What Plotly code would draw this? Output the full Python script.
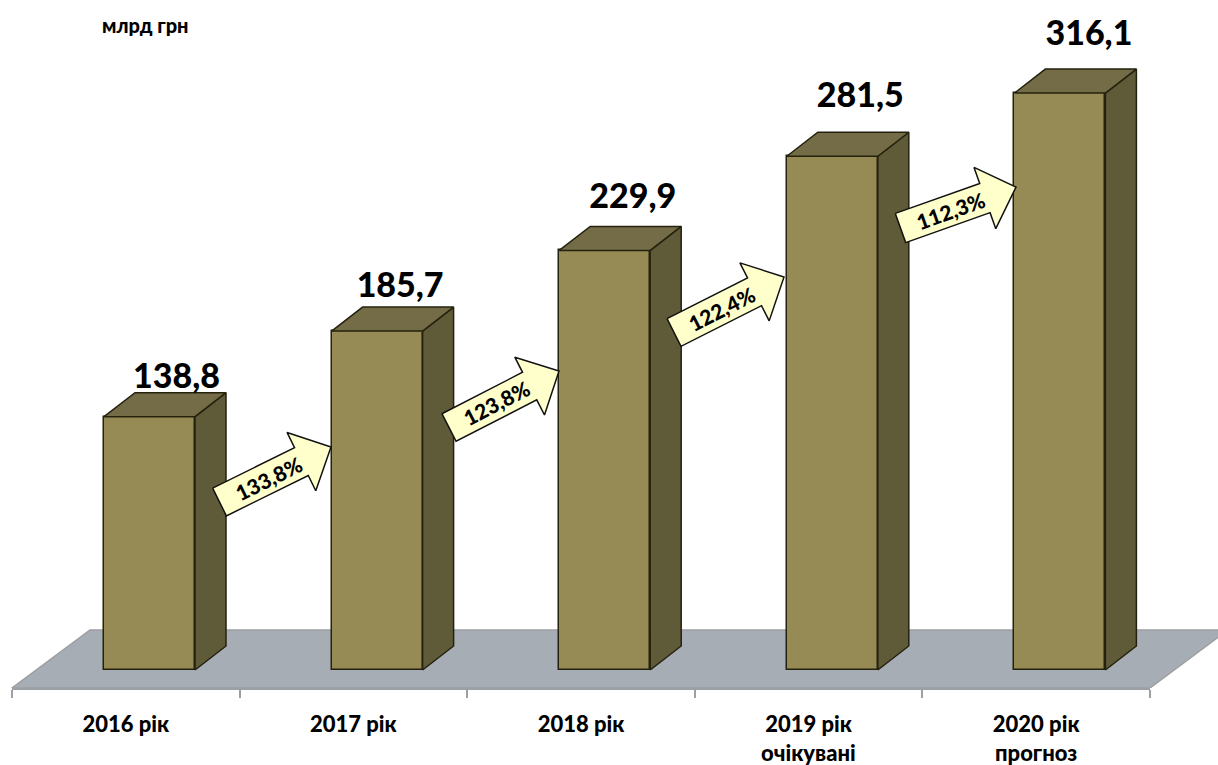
import math
import plotly.graph_objects as go

# ---- data
years = ["2016 рік", "2017 рік", "2018 рік", "2019 рік", "2020 рік"]
second_line = ["", "", "", "очікувані", "прогноз"]
values = [138.8, 185.7, 229.9, 281.5, 316.1]
value_labels = ["138,8", "185,7", "229,9", "281,5", "316,1"]
growth_labels = ["133,8%", "123,8%", "122,4%", "112,3%"]

# ---- geometry of the picture
W, H = 1218, 765
AX_L, AX_R, AX_Y = 12, 1150, 688
ZERO_Y = 670
PX_PER_UNIT = 1.825
STEP = (AX_R - AX_L) / 5
CENTER0 = AX_L + STEP / 2
FONT = "Lato, 'Open Sans', sans-serif"


def dx(px):
    return px / STEP


def dy(px):
    return px / PX_PER_UNIT


def to_x(px):
    return (px - CENTER0) / STEP


def to_y(py):
    return (ZERO_Y - py) / PX_PER_UNIT


BAR_W = dx(91)
BAR_OFF = to_x(104)
DEPTH_X, DEPTH_Y = dx(31), dy(24)

# faces of the 3D columns, from the values
side_x, side_y, top_x, top_y = [], [], [], []
for i, v in enumerate(values):
    l, r = i + BAR_OFF, i + BAR_OFF + BAR_W
    side_x += [r, r + DEPTH_X, r + DEPTH_X, r, r, None]
    side_y += [0, DEPTH_Y, v + DEPTH_Y, v, 0, None]
    top_x += [l, r, r + DEPTH_X, l + DEPTH_X, l, None]
    top_y += [v, v, v + DEPTH_Y, v + DEPTH_Y, v, None]

# floor, under every trace
FLOOR_DX, FLOOR_DY = dx(78), dy(58)
fy0 = to_y(AX_Y)
floor_path = "M {} {} L {} {} L {} {} L {} {} Z".format(
    -0.5, fy0, 4.5, fy0, 4.5 + FLOOR_DX, fy0 + FLOOR_DY, -0.5 + FLOOR_DX, fy0 + FLOOR_DY)

fig = go.Figure()

# keeps the category axis alive
fig.add_trace(go.Bar(x=years, y=[0] * 5, xaxis="x", yaxis="y", marker=dict(opacity=0),
                     showlegend=False, hoverinfo="skip"))

fig.add_trace(go.Bar(x=list(range(5)), y=values, xaxis="x2", yaxis="y", width=BAR_W, offset=BAR_OFF,
                     marker=dict(color="#968A55", line=dict(color="#24220F", width=1.5)),
                     showlegend=False))

fig.add_trace(go.Scatter(x=side_x, y=side_y, xaxis="x2", yaxis="y", mode="lines", fill="toself",
                         fillcolor="#5F5A38", line=dict(color="#24220F", width=1.5),
                         showlegend=False, hoverinfo="skip"))
fig.add_trace(go.Scatter(x=top_x, y=top_y, xaxis="x2", yaxis="y", mode="lines", fill="toself",
                         fillcolor="#746C46", line=dict(color="#24220F", width=1.5),
                         showlegend=False, hoverinfo="skip"))

# value labels
label_lift_px = [37, 43, 51, 58, 57]
label_shift_px = [27, 23, 28, 28, 29]
fig.add_trace(go.Scatter(
    x=[i + BAR_OFF + BAR_W / 2 + dx(s) for i, s in enumerate(label_shift_px)],
    y=[v + dy(p) for v, p in zip(values, label_lift_px)],
    xaxis="x2", yaxis="y", mode="text", text=value_labels, textposition="middle center",
    textfont=dict(family=FONT, size=34, color="#000000", weight=900),
    cliponaxis=False, showlegend=False, hoverinfo="skip"))

# growth arrows: tail centre and tip, in pixels
arrow_tail = [(219.5, 502), (449, 427.5), (674, 332.5), (900.5, 228)]
arrow_tip = [(331, 447), (559, 371), (784, 277), (1016, 187)]
SHAFT_HALF, HEAD_HALF, HEAD_LEN = 15.5, 32.5, 33

annotations = []
for (tx, ty), (hx, hy), lab in zip(arrow_tail, arrow_tip, growth_labels):
    L = math.hypot(hx - tx, hy - ty)
    ux, uy = (hx - tx) / L, (hy - ty) / L
    nx, ny = -uy, ux
    neck = L - HEAD_LEN
    outline = [(0, -SHAFT_HALF), (neck, -SHAFT_HALF), (neck, -HEAD_HALF), (L, 0),
               (neck, HEAD_HALF), (neck, SHAFT_HALF), (0, SHAFT_HALF), (0, -SHAFT_HALF)]
    px = [tx + a * ux + b * nx for a, b in outline]
    py = [ty + a * uy + b * ny for a, b in outline]
    fig.add_trace(go.Scatter(x=[to_x(p) for p in px], y=[to_y(p) for p in py], xaxis="x2", yaxis="y",
                             mode="lines", fill="toself", fillcolor="#FFFFCC",
                             line=dict(color="#111111", width=1.5),
                             showlegend=False, hoverinfo="skip"))
    mid = (L - HEAD_LEN) * 0.5 + 8.5
    annotations.append(dict(x=to_x(tx + mid * ux), y=to_y(ty + mid * uy), xref="x2", yref="y",
                            text=lab, showarrow=False,
                            textangle=math.degrees(math.atan2(uy, ux)),
                            font=dict(family=FONT, size=21, color="#000000", weight=900)))

# second lines of the category labels
for i, t in enumerate(second_line):
    if t:
        annotations.append(dict(x=i, y=1 - 752 / H, xref="x", yref="paper", text=t, showarrow=False,
                                yanchor="middle",
                                font=dict(family=FONT, size=22, color="#000000", weight=900)))

annotations.append(dict(x=145 / W, y=1 - 25 / H, xref="paper", yref="paper", text="млрд грн",
                        showarrow=False, xanchor="center", yanchor="middle",
                        font=dict(family=FONT, size=20, color="#000000", weight=900)))

fig.update_layout(
    width=W, height=H, autosize=False, margin=dict(l=0, r=0, t=0, b=0),
    paper_bgcolor="white", plot_bgcolor="white", bargap=0, barmode="overlay",
    annotations=annotations,
    shapes=[dict(type="path", path=floor_path, xref="x2", yref="y", layer="below",
                 fillcolor="#A6ADB5", line=dict(color="#9C9FA3", width=1.5))],
    xaxis=dict(domain=[AX_L / W, AX_R / W], anchor="y", type="category", categoryorder="array",
               categoryarray=years, tickson="boundaries", range=[-0.5, 4.5],
               ticks="outside", ticklen=8, tickcolor="#9C9FA3", tickwidth=1.5,
               showline=True, linecolor="#9C9FA3", linewidth=1.5, showgrid=False, zeroline=False,
               tickfont=dict(family=FONT, size=22, color="#000000", weight=900),
               ticklabelstandoff=16),
    xaxis2=dict(domain=[0, 1], anchor="y", range=[to_x(0), to_x(W)], visible=False),
    yaxis=dict(domain=[(H - AX_Y) / H, 1], range=[to_y(AX_Y), to_y(0)], visible=False),
)

fig.write_html("out.html", post_script="document.body.style.margin='0';",
               config={"displayModeBar": False})
